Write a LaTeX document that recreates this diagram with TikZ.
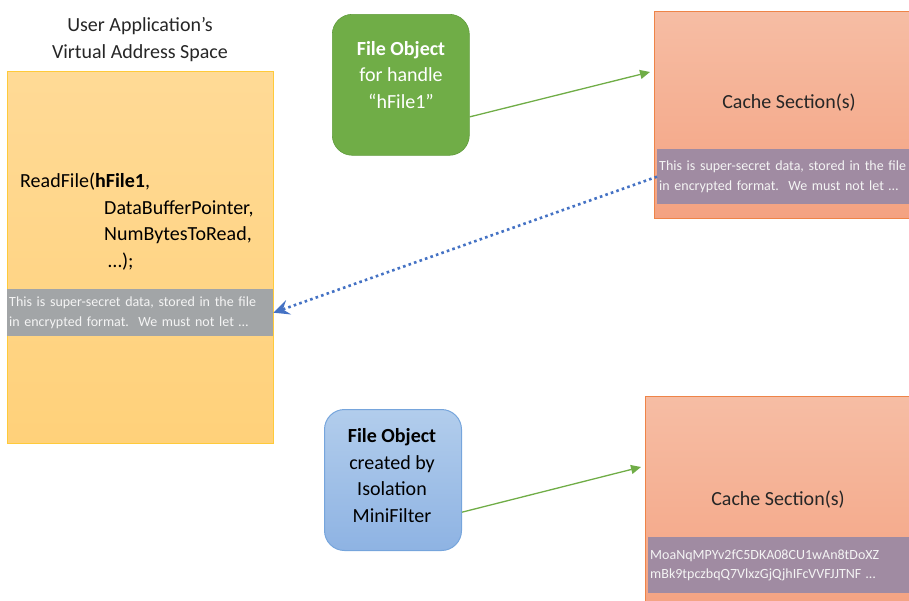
\documentclass[tikz,border=0pt]{standalone}
\usepackage{fontspec}
\setmainfont{Carlito}
\usetikzlibrary{positioning}
\usetikzlibrary{arrows.meta}

\definecolor{apptop}{HTML}{FFDA96}
\definecolor{appbot}{HTML}{FFD17A}
\definecolor{appline}{HTML}{FFCA3A}
\definecolor{bandgray}{HTML}{A2A5A7}
\definecolor{bandpurple}{HTML}{A08BA2}
\definecolor{cachetop}{HTML}{F6BDA4}
\definecolor{cachebot}{HTML}{F4A281}
\definecolor{cacheline}{HTML}{EE8448}
\definecolor{objgreen}{HTML}{70AD47}
\definecolor{objgreenline}{HTML}{609C3C}
\definecolor{objbluetop}{HTML}{B2CDEC}
\definecolor{objbluebot}{HTML}{8EB3E3}
\definecolor{objblueline}{HTML}{76A5DC}
\definecolor{leakblue}{HTML}{4472C4}
\definecolor{datatext}{HTML}{F4F4F4}
\definecolor{inktext}{HTML}{262626}

\newcommand{\bigtext}{\fontsize{20}{26.5}\selectfont}
\newcommand{\smalltext}{\fontsize{14}{19.5}\selectfont}

\tikzset{
    appbox/.style={draw=appline, line width=1.3pt, top color=apptop, bottom color=appbot, anchor=north west, inner sep=0pt},
    cachebox/.style={draw=cacheline, line width=1.3pt, top color=cachetop, bottom color=cachebot, anchor=north west, inner sep=0pt},
    objbox/.style={rounded corners=20pt, minimum width=137pt, minimum height=141pt, anchor=north west, inner sep=0pt},
    databand/.style={anchor=north west, align=left, inner xsep=1pt, inner ysep=0pt, font=\smalltext, text=datatext},
    tag/.style={font=\bigtext, align=center, anchor=base, inner sep=0pt, text=inktext},
    link/.style={draw=objgreen, line width=1.3pt, -{Triangle[length=10pt,width=9pt]}},
    leak/.style={draw=leakblue, line width=2.6pt, dash pattern=on 2.6pt off 3.2pt, -{Stealth[length=16pt,width=15pt,inset=6pt]}}
}

\begin{document}
\begin{tikzpicture}[x=1pt, y=-1pt]
    \useasboundingbox (0,0) rectangle (909,600);

    % adressraum der anwendung (base = letzte zeile)
    \node[tag] (apptitle) at (140,58) {User Application’s\\Virtual Address Space};
    \node[appbox, minimum width=266pt, minimum height=372pt] (app) at (7,71) {};
    \node[tag, align=left, anchor=base west, text=black] (call) at (20,267)
        {ReadFile(\textbf{hFile1},\\
         \hspace*{84pt}DataBufferPointer,\\
         \hspace*{84pt}NumBytesToRead,\\
         \hspace*{88pt}…);};
    \node[databand, fill=bandgray, minimum width=266pt, minimum height=47pt, text width=262pt] (appdata) at (7,289)
        {This is super-secret data, stored in the file\\in encrypted format.\ \ We must not let …};

    % file objects
    \node[objbox, draw=objgreenline, fill=objgreen, line width=0.6pt] (fobj) at (332,14) {};
    \node[tag, text=white] (fobjtext) at (401,108) {\textbf{File Object}\\for handle\\“hFile1”};
    \node[objbox, draw=objblueline, top color=objbluetop, bottom color=objbluebot, line width=1pt] (iobj) at (324,409) {};
    \node[tag, text=black] (iobjtext) at (392,522) {\textbf{File Object}\\created by\\Isolation\\MiniFilter};

    % cache
    \node[cachebox, minimum width=270pt, minimum height=207pt] (cache) at (654,11) {};
    \node[tag] (cachetext) at (789,108) {Cache Section(s)};
    \node[databand, fill=bandpurple, minimum width=260pt, minimum height=55pt, text width=256pt] (cachedata) at (657,149)
        {This is super-secret data, stored in the file\\in encrypted format.\ \ We must not let …};

    \node[cachebox, minimum width=280pt, minimum height=220pt] (icache) at (645,396) {};
    \node[tag] (icachetext) at (778,505) {Cache Section(s)};
    \node[databand, fill=bandpurple, minimum width=270pt, minimum height=56pt, text width=266pt] (icachedata) at (648,537)
        {MoaNqMPYv2fC5DKA08CU1wAn8tDoXZ\\mBk9tpczbqQ7VlxzGjQjhIFcVVFJJTNF …};

    % pfeile
    \coordinate (cachein) at (650,72);
    \coordinate (icachein) at (641,467);
    \draw[link] (fobj.-25) -- (cachein);
    \draw[link] (iobj.-25) -- (icachein);
    \draw[leak] (cachedata.west) -- (appdata.east);
\end{tikzpicture}
\end{document}
